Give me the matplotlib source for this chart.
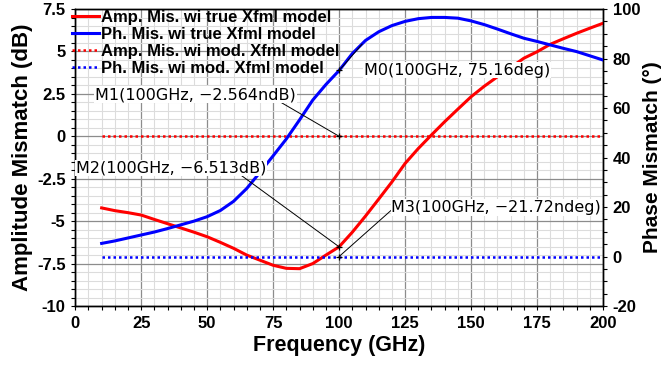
import numpy as np
import matplotlib.pyplot as plt
from matplotlib.ticker import MultipleLocator

# Data
freq = [10, 15, 20, 25, 30, 35, 40, 45, 50, 55, 60, 65, 70, 75, 80, 85, 90, 95,
        100, 105, 110, 115, 120, 125, 130, 135, 140, 145, 150, 155, 160, 165,
        170, 175, 180, 185, 190, 195, 200]

# amplitude mismatch with true Xfml model (dB, left axis)
amp_true = [-4.22, -4.38, -4.5, -4.64, -4.9, -5.15, -5.4, -5.65, -5.92, -6.25,
            -6.6, -7.0, -7.3, -7.6, -7.78, -7.8, -7.5, -7.0, -6.51, -5.65,
            -4.7, -3.7, -2.69, -1.6, -0.72, 0.08, 0.86, 1.6, 2.33, 2.95,
            3.51, 4.05, 4.6, 4.98, 5.42, 5.75, 6.07, 6.37, 6.66]

# phase mismatch with true Xfml model (deg, right axis)
ph_true = [5.3, 6.3, 7.5, 8.7, 9.9, 11.3, 12.8, 14.3, 16.1, 18.6, 22.3, 27.5,
           34.0, 40.7, 47.5, 55.2, 63.2, 69.5, 75.16, 82.0, 87.3, 90.8, 93.3,
           95.0, 96.1, 96.6, 96.6, 96.3, 95.2, 93.7, 91.9, 90.0, 88.2, 86.9,
           85.5, 84.1, 82.8, 81.1, 79.4]

# modified model: both mismatches are ~0
amp_mod = [0.0] * len(freq)
ph_mod = [0.0] * len(freq)

labels = ['Amp. Mis. wi true Xfml model', 'Ph. Mis. wi true Xfml model',
          'Amp. Mis. wi mod. Xfml model', 'Ph. Mis. wi mod. Xfml model']

plt.rcParams['font.family'] = ['Liberation Sans', 'DejaVu Sans']

fig = plt.figure(figsize=(6.63, 3.65), dpi=100)
ax = fig.add_axes([0.1135, 0.1616, 0.7960, 0.8137])
ax2 = ax.twinx()

ax.set_xlim(0, 200)
ax.set_ylim(-10, 7.5)
ax2.set_ylim(-20, 100)

# grid (left axes, drawn below everything)
ax.xaxis.set_major_locator(MultipleLocator(25))
ax.xaxis.set_minor_locator(MultipleLocator(5))
ax.yaxis.set_major_locator(MultipleLocator(2.5))
ax.yaxis.set_minor_locator(MultipleLocator(0.5))
ax2.yaxis.set_major_locator(MultipleLocator(20))
ax2.yaxis.set_minor_locator(MultipleLocator(5))
ax.grid(True, which='minor', color='#dcdcdc', lw=0.8)
ax.grid(True, which='major', color='#8c8c8c', lw=0.9)
ax.set_axisbelow(True)

# curves
l1, = ax.plot(freq, amp_true, color='#ff0000', lw=2.2, label=labels[0], zorder=3)
l3, = ax.plot(freq, amp_mod, color='#ff0000', lw=1.8, ls=(0, (1, 1.2)), label=labels[2], zorder=3)
l2, = ax2.plot(freq, ph_true, color='#0000ff', lw=2.2, label=labels[1], zorder=3)
l4, = ax2.plot(freq, ph_mod, color='#0000ff', lw=1.8, ls=(0, (1, 1.2)), label=labels[3], zorder=3)

leg = ax2.legend(handles=[l1, l2, l3, l4], loc='upper left',
                 bbox_to_anchor=(72 / 663, 1 - 10 / 365), bbox_transform=fig.transFigure,
                 frameon=False, borderpad=0, borderaxespad=0, handlelength=1.6,
                 handletextpad=0.15, labelspacing=0.12,
                 prop={'weight': 'bold', 'size': 12})

# markers (drawn on the top axes, placed in amplitude/phase data coords)
mk_font = dict(family='DejaVu Sans', size=11.5, color='black', zorder=6)
box = dict(facecolor='white', edgecolor='none', pad=0.6)
T = ax.transData

ax.plot([100, 100], [0.0, -6.513], '+', color='black', ms=5, mew=0.9, zorder=5)
ax2.plot([100, 100], [75.16, 0.0], '+', color='black', ms=5, mew=0.9, zorder=5)

ax2.plot([100, 108.7], [75.16, 85.8], color='black', lw=0.7, zorder=4)
ax2.text(109.5, 3.9, 'M0(100GHz, 75.16deg)', transform=T, ha='left', va='center', bbox=box, **mk_font)

ax2.plot([76.4, 100], [2.14, 0.0], transform=T, color='black', lw=0.7, zorder=4)
ax2.text(7.5, 2.45, 'M1(100GHz, \u22122.564ndB)', transform=T, ha='left', va='center', bbox=box, **mk_font)

ax2.plot([62, 100], [-2.2, -6.513], transform=T, color='black', lw=0.7, zorder=4)
ax2.text(0.3, -1.87, 'M2(100GHz, \u22126.513dB)', transform=T, ha='left', va='center', bbox=box, **mk_font)

ax2.plot([119.8, 100], [-4.35, -7.083], transform=T, color='black', lw=0.7, zorder=4)
ax2.text(119.8, -4.2, 'M3(100GHz, \u221221.72ndeg)', transform=T, ha='left', va='center', bbox=box, **mk_font)

# axes labels and ticks
tick_font = {'weight': 'bold', 'size': 12}
ax.set_xticks(np.arange(0, 201, 25))
ax.set_xticklabels([str(v) for v in range(0, 201, 25)], **tick_font)
ax.set_yticks(np.arange(-10, 7.6, 2.5))
ax.set_yticklabels(['-10', '-7.5', '-5', '-2.5', '0', '2.5', '5', '7.5'], **tick_font)
ax2.set_yticks(np.arange(-20, 101, 20))
ax2.set_yticklabels(['-20', '0', '20', '40', '60', '80', '100'], **tick_font)

ax.tick_params(which='both', direction='out', color='black', length=3, width=0.8)
ax.tick_params(which='major', pad=4)
ax2.tick_params(which='both', direction='out', color='black', length=3, width=0.8)
ax2.tick_params(which='major', pad=4)

ax.set_xlabel('Frequency (GHz)', fontsize=15.5, fontweight='bold', labelpad=3)
ax.set_ylabel('Amplitude Mismatch (dB)', fontsize=16, fontweight='bold', labelpad=3)
ax2.set_ylabel('Phase Mismatch (\u00b0)', fontsize=15, fontweight='bold', labelpad=2)

for a in (ax, ax2):
    for sp in a.spines.values():
        sp.set_color('black')
        sp.set_linewidth(1.0)

fig.savefig('out.png', dpi=100)
